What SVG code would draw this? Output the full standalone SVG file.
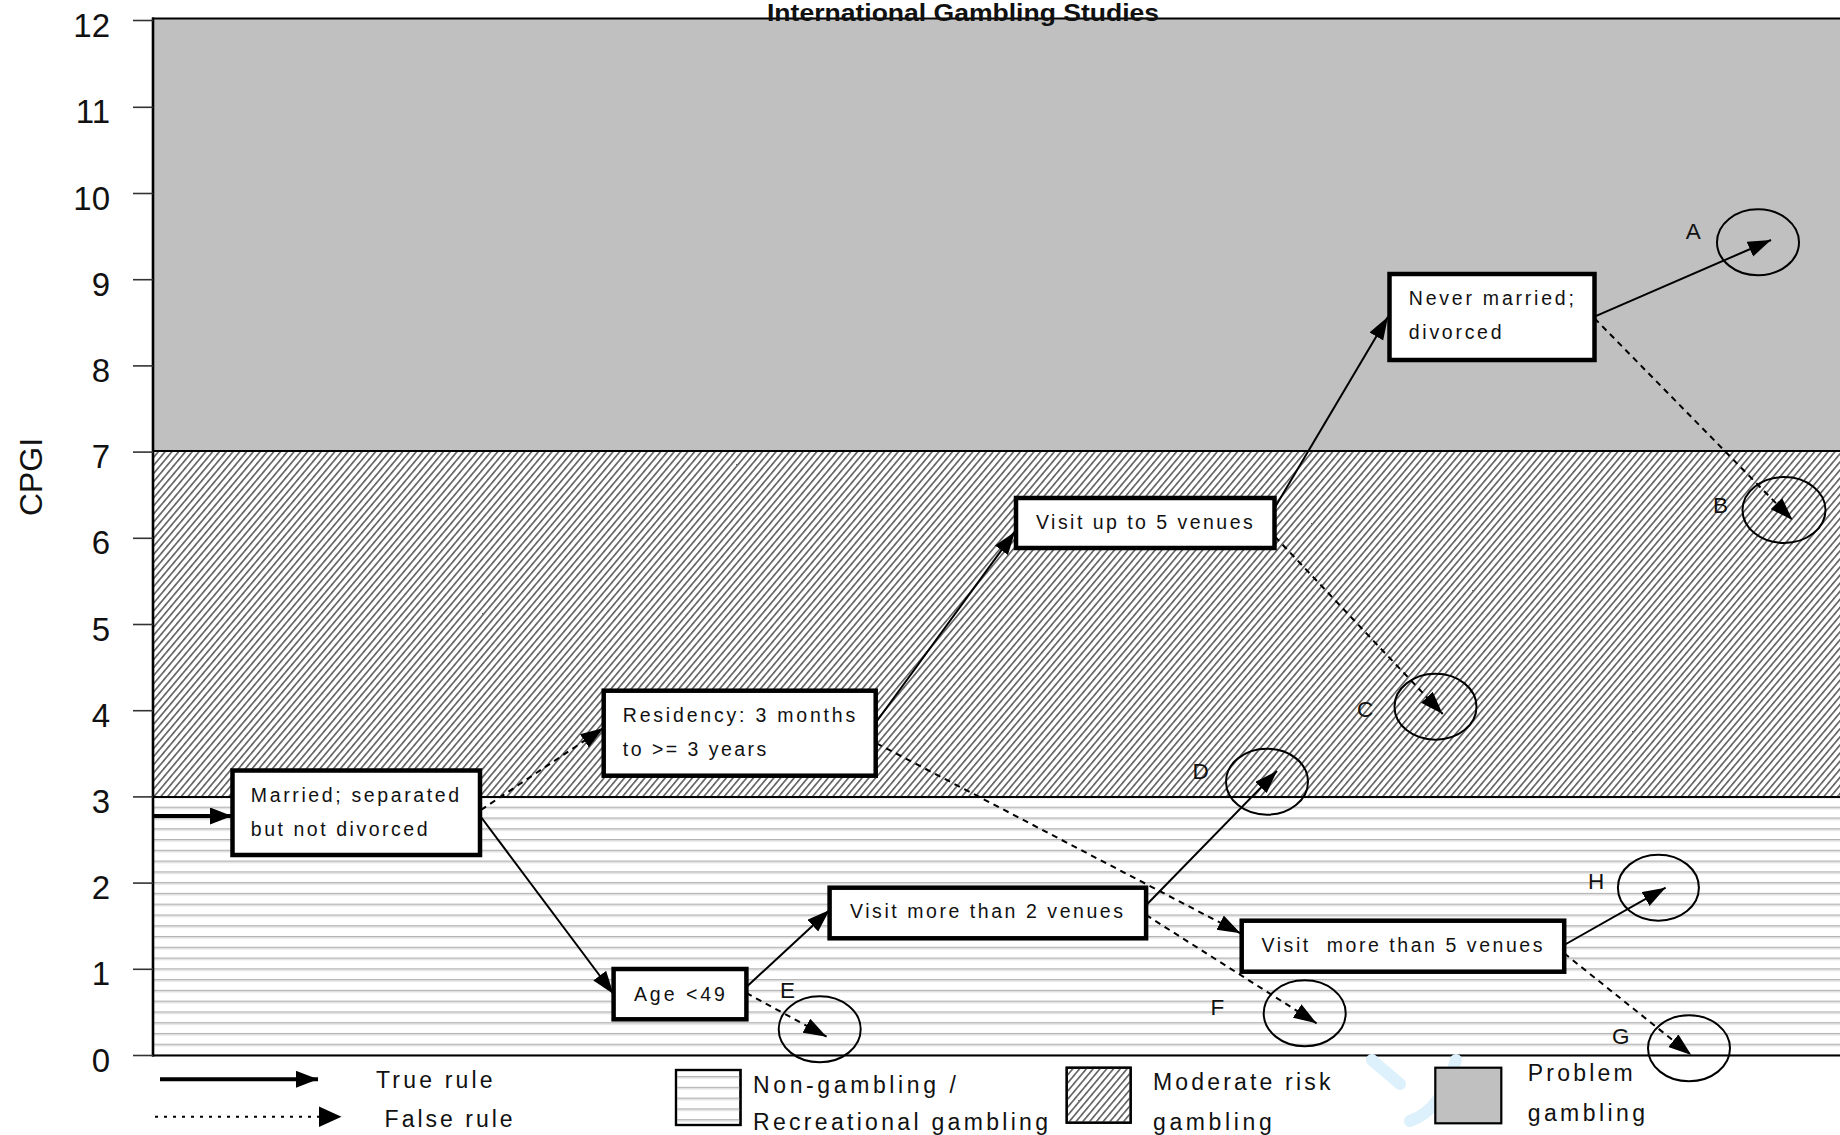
<svg xmlns="http://www.w3.org/2000/svg" width="1840" height="1135" viewBox="0 0 1840 1135">
<style>
  text { font-family: "Liberation Sans", Arial, sans-serif; fill: #111; }
  .tick { font-size: 33px; text-anchor: end; }
  .lbl { font-size: 19.5px; }
  .leg { font-size: 23px; }
  .cl { font-size: 22.5px; }
  .box { fill: #fff; stroke: #000; stroke-width: 4.5; }
  .lbox { stroke: #000; stroke-width: 2.2; }
  .ell { fill: none; stroke: #000; stroke-width: 2; }
  .t { fill: none; stroke: #000; stroke-width: 2; }
  .f { fill: none; stroke: #000; stroke-width: 2; stroke-dasharray: 6 5; }
  .tk { stroke: #333; stroke-width: 1.6; }
</style>
<defs>
  <pattern id="hlines" patternUnits="userSpaceOnUse" x="0" y="1054.5" width="40" height="10.775">
    <rect x="0" y="0" width="40" height="1.3" fill="#b2b2b2"/>
    <rect x="0" y="1.3" width="40" height="1.2" fill="#dadada"/>
  </pattern>
  <pattern id="hatch" patternUnits="userSpaceOnUse" width="20" height="5.2" patternTransform="rotate(-50)">
    <rect x="0" y="0" width="20" height="1.6" fill="#5e5e5e"/>
  </pattern>
  <marker id="ah" markerUnits="userSpaceOnUse" markerWidth="24" markerHeight="17" refX="23" refY="8" orient="auto">
    <path d="M0,0 L23,8 L0,16 z" fill="#000"/>
  </marker>
  <marker id="ahL" markerUnits="userSpaceOnUse" markerWidth="24" markerHeight="18" refX="22" refY="8.5" orient="auto">
    <path d="M0,0 L22,8.5 L0,17 z" fill="#000"/>
  </marker>
</defs>

<g id="bands">
  <rect x="0" y="0" width="1840" height="1135" fill="#fff"/>
  <rect x="153" y="18.5" width="1687" height="432.5" fill="#c0c0c0"/>
  <rect x="153" y="451" width="1687" height="346" fill="#fff"/>
  <rect x="153" y="451" width="1687" height="346" fill="url(#hatch)"/>
  <rect x="153" y="797" width="1687" height="258.5" fill="#fff"/>
  <rect x="153" y="797" width="1687" height="258.5" fill="url(#hlines)"/>
  <line x1="153" y1="451" x2="1840" y2="451" stroke="#000" stroke-width="1.8"/>
  <line x1="153" y1="797" x2="1840" y2="797" stroke="#000" stroke-width="1.8"/>
</g>

<g id="axes">
  <line x1="152" y1="18.5" x2="1840" y2="18.5" stroke="#000" stroke-width="2"/>
  <line x1="152" y1="1055.5" x2="1840" y2="1055.5" stroke="#000" stroke-width="2"/>
  <line x1="153" y1="17.5" x2="153" y2="1056.5" stroke="#000" stroke-width="2.6"/>
  <g class="tk">
    <line x1="133" y1="20.5" x2="153" y2="20.5"/>
    <line x1="133" y1="107.3" x2="153" y2="107.3"/>
    <line x1="133" y1="193.5" x2="153" y2="193.5"/>
    <line x1="133" y1="279.7" x2="153" y2="279.7"/>
    <line x1="133" y1="365.9" x2="153" y2="365.9"/>
    <line x1="133" y1="452.1" x2="153" y2="452.1"/>
    <line x1="133" y1="538.3" x2="153" y2="538.3"/>
    <line x1="133" y1="624.5" x2="153" y2="624.5"/>
    <line x1="133" y1="710.7" x2="153" y2="710.7"/>
    <line x1="133" y1="796.9" x2="153" y2="796.9"/>
    <line x1="133" y1="883.1" x2="153" y2="883.1"/>
    <line x1="133" y1="969.3" x2="153" y2="969.3"/>
    <line x1="133" y1="1055.5" x2="153" y2="1055.5"/>
  </g>
  <text class="tick" x="110" y="37">12</text>
  <text class="tick" x="110" y="123.3">11</text>
  <text class="tick" x="110" y="209.5">10</text>
  <text class="tick" x="110" y="295.7">9</text>
  <text class="tick" x="110" y="381.9">8</text>
  <text class="tick" x="110" y="468.1">7</text>
  <text class="tick" x="110" y="554.3">6</text>
  <text class="tick" x="110" y="640.5">5</text>
  <text class="tick" x="110" y="726.7">4</text>
  <text class="tick" x="110" y="812.9">3</text>
  <text class="tick" x="110" y="899.1">2</text>
  <text class="tick" x="110" y="985.3">1</text>
  <text class="tick" x="110" y="1071.5">0</text>
  <text x="0" y="0" font-size="32" textLength="78" lengthAdjust="spacingAndGlyphs" transform="translate(42,516) rotate(-90)">CPGI</text>
  <text x="767" y="21" font-size="24" font-weight="bold" textLength="392" lengthAdjust="spacingAndGlyphs">International Gambling Studies</text>
</g>

<g id="connectors">
  <line x1="152" y1="816" x2="232" y2="816" stroke="#000" stroke-width="4" marker-end="url(#ahL)"/>
  <line class="f" x1="481" y1="810" x2="603.5" y2="728" marker-end="url(#ah)"/>
  <line class="t" x1="481" y1="817" x2="613.5" y2="994" marker-end="url(#ah)"/>
  <line class="t" x1="875.5" y1="723" x2="1015" y2="531.7" marker-end="url(#ah)"/>
  <line class="f" x1="876.5" y1="743.3" x2="1240.5" y2="933.3" marker-end="url(#ah)"/>
  <line class="t" x1="1269.4" y1="516.7" x2="1388" y2="316.7" marker-end="url(#ah)"/>
  <line class="f" x1="1275" y1="536.7" x2="1442.7" y2="714" marker-end="url(#ah)"/>
  <line class="t" x1="1594.5" y1="316.7" x2="1771" y2="240" marker-end="url(#ah)"/>
  <line class="f" x1="1594.5" y1="318.3" x2="1792.5" y2="520" marker-end="url(#ah)"/>
  <line class="t" x1="746.4" y1="987" x2="829.6" y2="910" marker-end="url(#ah)"/>
  <line class="f" x1="746.4" y1="993" x2="826.6" y2="1036.7" marker-end="url(#ah)"/>
  <line class="t" x1="1144.6" y1="906.7" x2="1277" y2="771" marker-end="url(#ah)"/>
  <line class="f" x1="1146" y1="915" x2="1316.6" y2="1023.3" marker-end="url(#ah)"/>
  <line class="t" x1="1564.2" y1="945" x2="1665.6" y2="887.7" marker-end="url(#ah)"/>
  <line class="f" x1="1564.2" y1="953.3" x2="1691.3" y2="1055" marker-end="url(#ah)"/>
</g>

<g id="node-married">
  <rect class="box" x="232.5" y="770.5" width="247.5" height="84.5"/>
  <text class="lbl" x="250.8" y="801.7" textLength="208.4" lengthAdjust="spacing">Married; separated</text>
  <text class="lbl" x="250.8" y="835.7" textLength="176.8" lengthAdjust="spacing">but not divorced</text>
</g>
<g id="node-residency">
  <rect class="box" x="603.7" y="690.7" width="272" height="85"/>
  <text class="lbl" x="622.8" y="721.7" textLength="232.4" lengthAdjust="spacing">Residency: 3 months</text>
  <text class="lbl" x="622.8" y="755.7" textLength="143.5" lengthAdjust="spacing">to &gt;= 3 years</text>
</g>
<g id="node-visit-up-to-5">
  <rect class="box" x="1016" y="498" width="258.5" height="50"/>
  <text class="lbl" x="1036" y="529" textLength="216.7" lengthAdjust="spacing">Visit up to 5 venues</text>
</g>
<g id="node-never-married">
  <rect class="box" x="1389.5" y="274" width="205" height="86"/>
  <text class="lbl" x="1408.8" y="305" textLength="165" lengthAdjust="spacing">Never married;</text>
  <text class="lbl" x="1408.8" y="339.3" textLength="92.7" lengthAdjust="spacing">divorced</text>
</g>
<g id="node-visit-more-2">
  <rect class="box" x="829.6" y="887.7" width="316.5" height="50.6"/>
  <text class="lbl" x="850" y="917.7" textLength="273" lengthAdjust="spacing">Visit more than 2 venues</text>
</g>
<g id="node-age">
  <rect class="box" x="613.6" y="969" width="132.8" height="50.3"/>
  <text class="lbl" x="633.9" y="1000.7" textLength="91" lengthAdjust="spacing">Age &lt;49</text>
</g>
<g id="node-visit-more-5">
  <rect class="box" x="1241.7" y="920.7" width="322.5" height="51"/>
  <text class="lbl" x="1261.5" y="952.3" textLength="281" lengthAdjust="spacing" xml:space="preserve">Visit  more than 5 venues</text>
</g>

<g id="node-A"><ellipse class="ell" cx="1758" cy="242.3" rx="41" ry="33"/><text class="cl" x="1685.7" y="239.3">A</text></g>
<g id="node-B"><ellipse class="ell" cx="1784" cy="510" rx="41.5" ry="33"/><text class="cl" x="1713" y="513.3">B</text></g>
<g id="node-C"><ellipse class="ell" cx="1435.5" cy="706.7" rx="41" ry="33"/><text class="cl" x="1357" y="716.7">C</text></g>
<g id="node-D"><ellipse class="ell" cx="1267" cy="781.7" rx="41" ry="33"/><text class="cl" x="1192.6" y="779">D</text></g>
<g id="node-E"><ellipse class="ell" cx="819.7" cy="1029.3" rx="41" ry="33"/><text class="cl" x="780" y="998.3">E</text></g>
<g id="node-F"><ellipse class="ell" cx="1304.7" cy="1013.3" rx="41" ry="33"/><text class="cl" x="1210.5" y="1015">F</text></g>
<g id="node-G"><ellipse class="ell" cx="1689" cy="1048.3" rx="41" ry="33"/><text class="cl" x="1612" y="1044.3">G</text></g>
<g id="node-H"><ellipse class="ell" cx="1658.4" cy="887.7" rx="40.5" ry="33"/><text class="cl" x="1588" y="889.3">H</text></g>

<g id="watermark" fill="none" stroke="#ddf1fc" stroke-width="12" stroke-linecap="round">
  <path d="M1372,1060 L1400,1084"/>
  <path d="M1456,1060 C1447,1092 1433,1113 1410,1121"/>
</g>

<g id="legend">
  <line x1="160" y1="1079.3" x2="318" y2="1079.3" stroke="#000" stroke-width="4" marker-end="url(#ahL)"/>
  <text class="leg" x="376" y="1088.3" textLength="116.5" lengthAdjust="spacing">True rule</text>
  <line x1="155" y1="1116.7" x2="321" y2="1116.7" stroke="#000" stroke-width="2" stroke-dasharray="3 6"/>
  <path d="M319,1106.5 L341.5,1116.7 L319,1127 z" fill="#000"/>
  <text class="leg" x="384.6" y="1126.7" textLength="128" lengthAdjust="spacing">False rule</text>
  <rect class="lbox" x="676" y="1070" width="64.5" height="55" fill="#fff"/>
  <rect class="lbox" x="676" y="1070" width="64.5" height="55" fill="url(#hlines)"/>
  <text class="leg" x="753" y="1093.3" textLength="203" lengthAdjust="spacing">Non-gambling /</text>
  <text class="leg" x="753" y="1130" textLength="295" lengthAdjust="spacing">Recreational gambling</text>
  <rect class="lbox" x="1066.7" y="1067.7" width="64" height="55" fill="#fff"/>
  <rect class="lbox" x="1066.7" y="1067.7" width="64" height="55" fill="url(#hatch)"/>
  <text class="leg" x="1153" y="1090" textLength="177.4" lengthAdjust="spacing">Moderate risk</text>
  <text class="leg" x="1153" y="1130" textLength="118.7" lengthAdjust="spacing">gambling</text>
  <rect class="lbox" x="1435.3" y="1067.7" width="66" height="55.6" fill="#c0c0c0"/>
  <text class="leg" x="1527.7" y="1081" textLength="105" lengthAdjust="spacing">Problem</text>
  <text class="leg" x="1527.7" y="1120.7" textLength="117.3" lengthAdjust="spacing">gambling</text>
</g>
</svg>
